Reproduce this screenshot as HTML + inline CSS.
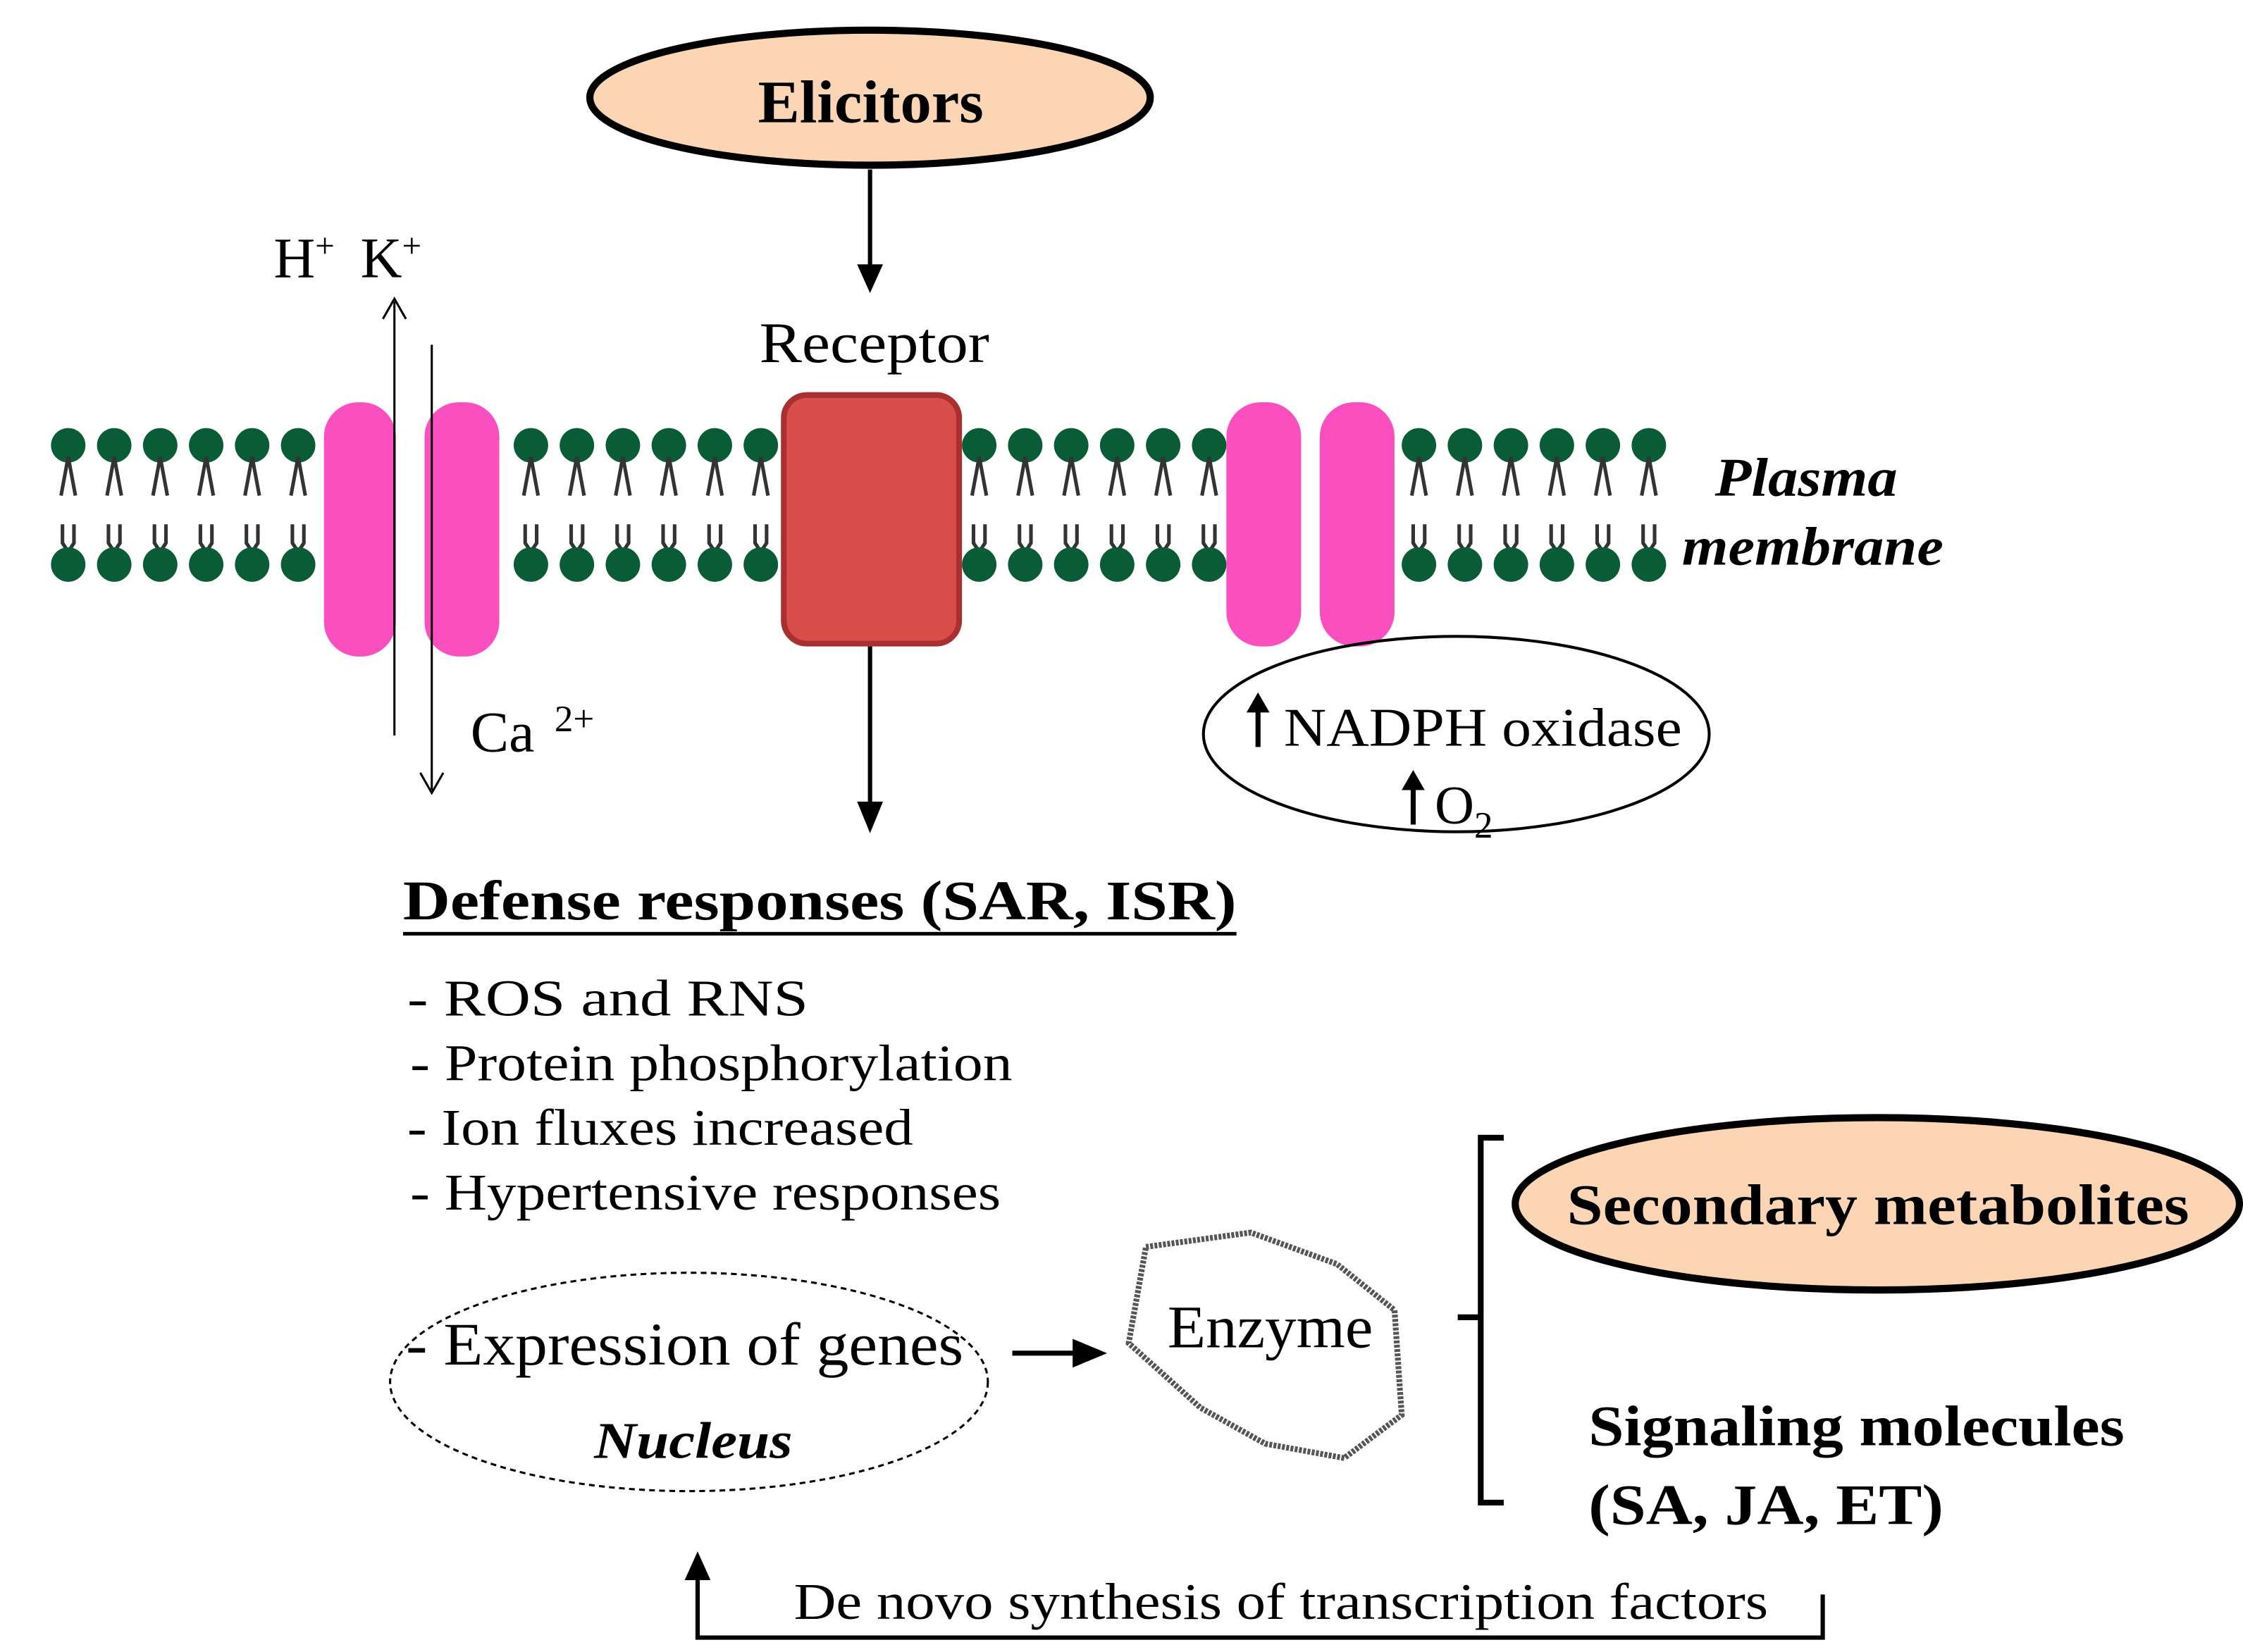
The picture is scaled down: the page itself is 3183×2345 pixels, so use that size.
<!DOCTYPE html>
<html><head><meta charset="utf-8"><style>html,body{margin:0;padding:0;background:#fff}svg{display:block}</style></head><body>
<svg width="3183" height="2345" viewBox="0 0 1560 1150" xmlns="http://www.w3.org/2000/svg" font-family="Liberation Serif, serif">
<defs>
<g id="lip">
<circle cx="0" cy="310" r="12" fill="#0a5c36"/>
<path d="M0 318 L-5 345 M0 318 L5 345 M-4 365 L-4 378 L0 384 L4 378 L4 365" stroke="#333" stroke-width="2.5" fill="none"/>
<circle cx="0" cy="393" r="12" fill="#0a5c36"/>
</g>
</defs>
<g>
<use href="#lip" x="47"/><use href="#lip" x="79"/><use href="#lip" x="111"/><use href="#lip" x="143"/><use href="#lip" x="175"/><use href="#lip" x="207"/>
<use href="#lip" x="369"/><use href="#lip" x="401"/><use href="#lip" x="433"/><use href="#lip" x="465"/><use href="#lip" x="497"/><use href="#lip" x="529"/>
<use href="#lip" x="681"/><use href="#lip" x="713"/><use href="#lip" x="745"/><use href="#lip" x="777"/><use href="#lip" x="809"/><use href="#lip" x="841"/>
<use href="#lip" x="987"/><use href="#lip" x="1019"/><use href="#lip" x="1051"/><use href="#lip" x="1083"/><use href="#lip" x="1115"/><use href="#lip" x="1147"/>
</g>
<rect x="225" y="280" width="50" height="177" rx="24" fill="#fb4fbf"/>
<rect x="295" y="280" width="52" height="177" rx="24" fill="#fb4fbf"/>
<rect x="853" y="280" width="52" height="170" rx="24" fill="#fb4fbf"/>
<rect x="918" y="280" width="52" height="170" rx="24" fill="#fb4fbf"/>
<rect x="545" y="275" width="122" height="173" rx="16" fill="#d94d4a" stroke="#a83030" stroke-width="4"/>
<line x1="274" y1="512" x2="274" y2="210" stroke="#000" stroke-width="1.5"/><path d="M266 222 L274 208 L282 222" stroke="#000" fill="none" stroke-width="1.5"/>
<line x1="300" y1="240" x2="300" y2="550" stroke="#000" stroke-width="1.5"/><path d="M292 538 L300 552 L308 538" stroke="#000" fill="none" stroke-width="1.5"/>
<ellipse cx="605" cy="68" rx="195" ry="47" fill="#fcd5b5" stroke="#000" stroke-width="5"/>
<text x="527" y="85" font-size="42" font-weight="bold" textLength="157" lengthAdjust="spacingAndGlyphs">Elicitors</text>
<line x1="605" y1="118" x2="605" y2="200" stroke="#000" stroke-width="3"/><path d="M596 184 L605 204 L614 184 z" fill="#000"/>
<text x="528" y="252" font-size="40" textLength="160" lengthAdjust="spacingAndGlyphs">Receptor</text>
<line x1="605" y1="450" x2="605" y2="574" stroke="#000" stroke-width="3"/><path d="M596 558 L605 580 L614 558 z" fill="#000"/>
<text x="190" y="193" font-size="40">H<tspan font-size="24" dy="-14">+</tspan><tspan dy="14" dx="18">K</tspan><tspan font-size="24" dy="-14">+</tspan></text>
<text x="327" y="523" font-size="40">Ca <tspan font-size="26" dy="-14" dx="4">2+</tspan></text>
<text x="1193" y="345" font-size="38" font-weight="bold" font-style="italic" textLength="127" lengthAdjust="spacingAndGlyphs">Plasma</text>
<text x="1170" y="393" font-size="38" font-weight="bold" font-style="italic" textLength="182" lengthAdjust="spacingAndGlyphs">membrane</text>
<ellipse cx="1013" cy="511" rx="176" ry="68" fill="none" stroke="#000" stroke-width="2"/>
<line x1="875" y1="520" x2="875" y2="490" stroke="#000" stroke-width="3.5"/><path d="M867 496 L875 482 L883 496 z" fill="#000"/>
<text x="893" y="519" font-size="38" textLength="277" lengthAdjust="spacingAndGlyphs">NADPH oxidase</text>
<line x1="983" y1="574" x2="983" y2="544" stroke="#000" stroke-width="3.5"/><path d="M975 550 L983 536 L991 550 z" fill="#000"/>
<text x="998" y="573" font-size="38">O<tspan font-size="26" dy="10">2</tspan></text>
<text x="280" y="640" font-size="39" font-weight="bold" textLength="580" lengthAdjust="spacingAndGlyphs">Defense responses  (SAR, ISR)</text>
<line x1="280" y1="650" x2="860" y2="650" stroke="#000" stroke-width="2.5"/>
<g font-size="36">
<text x="283" y="707" textLength="279" lengthAdjust="spacingAndGlyphs">- ROS  and  RNS</text>
<text x="285" y="752" textLength="419" lengthAdjust="spacingAndGlyphs">- Protein phosphorylation</text>
<text x="283" y="797" textLength="352" lengthAdjust="spacingAndGlyphs">- Ion fluxes increased</text>
<text x="285" y="842" textLength="411" lengthAdjust="spacingAndGlyphs">- Hypertensive responses</text>
</g>
<ellipse cx="479" cy="962" rx="208" ry="76" fill="none" stroke="#000" stroke-width="1.5" stroke-dasharray="4 3"/>
<text x="282" y="950" font-size="42" textLength="388" lengthAdjust="spacingAndGlyphs">- Expression  of genes</text>
<text x="413" y="1015" font-size="36" font-weight="bold" font-style="italic" textLength="138" lengthAdjust="spacingAndGlyphs">Nucleus</text>
<line x1="704" y1="942" x2="752" y2="942" stroke="#000" stroke-width="3.5"/><path d="M746 932 L770 942 L746 952 z" fill="#000"/>
<path d="M797 868 L870 858 L930 880 L970 912 L975 985 L935 1015 L880 1005 L835 980 L785 935 Z" fill="none" stroke="#555" stroke-width="4" stroke-dasharray="2 1"/>
<text x="812" y="938" font-size="42" textLength="143" lengthAdjust="spacingAndGlyphs">Enzyme</text>
<path d="M1046 792 L1030 792 L1030 1046 L1046 1046 M1030 917 L1014 917" stroke="#000" stroke-width="4" fill="none"/>
<ellipse cx="1306" cy="838" rx="252" ry="60" fill="#fcd5b5" stroke="#000" stroke-width="5"/>
<text x="1090" y="852" font-size="40" font-weight="bold" textLength="433" lengthAdjust="spacingAndGlyphs">Secondary  metabolites</text>
<text x="1105" y="1006" font-size="40" font-weight="bold" textLength="373" lengthAdjust="spacingAndGlyphs">Signaling molecules</text>
<text x="1105" y="1061" font-size="40" font-weight="bold" textLength="247" lengthAdjust="spacingAndGlyphs">(SA, JA, ET)</text>
<path d="M485 1090 L485 1140 L1268 1140 L1268 1110" stroke="#000" stroke-width="3" fill="none"/>
<path d="M476 1100 L485 1080 L494 1100 z" fill="#000"/>
<text x="552" y="1127" font-size="36" textLength="678" lengthAdjust="spacingAndGlyphs">De novo synthesis of transcription factors</text>
</svg>
</body></html>
